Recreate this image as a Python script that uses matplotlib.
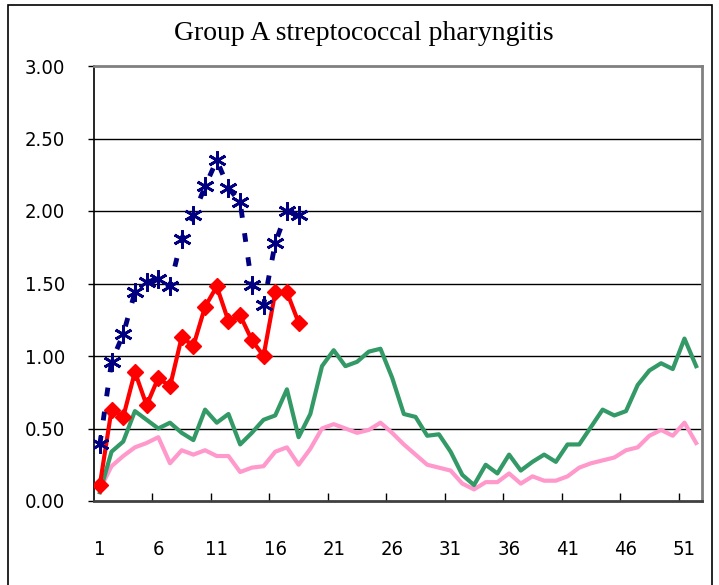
import numpy as np
import matplotlib
matplotlib.use("Agg")
import matplotlib.pyplot as plt
from matplotlib.patches import Rectangle
from matplotlib import font_manager

# weeks 1..52
weeks = np.arange(1, 53)

# current season (weeks 1-18)
cur_a = [0.39, 0.96, 1.15, 1.44, 1.51, 1.53, 1.48, 1.81, 1.97, 2.17, 2.35, 2.16,
         2.06, 1.49, 1.35, 1.78, 2.00, 1.97]
cur_b = [0.11, 0.63, 0.58, 0.89, 0.66, 0.85, 0.79, 1.13, 1.07, 1.34, 1.48, 1.24,
         1.28, 1.11, 1.00, 1.44, 1.44, 1.23]

# previous / average seasons (weeks 1-52)
prev_green = [0.06, 0.34, 0.41, 0.62, 0.56, 0.50, 0.54, 0.47, 0.42, 0.63, 0.54, 0.60,
              0.39, 0.47, 0.56, 0.59, 0.77, 0.44, 0.60, 0.93, 1.04, 0.93, 0.96, 1.03,
              1.05, 0.85, 0.60, 0.58, 0.45, 0.46, 0.34, 0.18, 0.11, 0.25, 0.19, 0.32,
              0.21, 0.27, 0.32, 0.27, 0.39, 0.39, 0.51, 0.63, 0.59, 0.62, 0.80, 0.90,
              0.95, 0.91, 1.12, 0.93]
prev_pink = [0.08, 0.24, 0.31, 0.37, 0.40, 0.44, 0.26, 0.35, 0.32, 0.35, 0.31, 0.31,
             0.20, 0.23, 0.24, 0.34, 0.37, 0.25, 0.36, 0.50, 0.53, 0.50, 0.47, 0.49,
             0.54, 0.47, 0.39, 0.32, 0.25, 0.23, 0.21, 0.12, 0.08, 0.13, 0.13, 0.19,
             0.12, 0.17, 0.14, 0.14, 0.17, 0.23, 0.26, 0.28, 0.30, 0.35, 0.37, 0.45,
             0.49, 0.45, 0.54, 0.40]

title = "Group A streptococcal pharyngitis"
xticks_lab = [1, 6, 11, 16, 21, 26, 31, 36, 41, 46, 51]
yticks = [0.0, 0.5, 1.0, 1.5, 2.0, 2.5, 3.0]

# pick a narrow face for the tick numbers if one is around
names = {f.name for f in font_manager.fontManager.ttflist}
tick_font = dict(family=["DejaVu Sans"], fontsize=13.5)
if "Liberation Sans Narrow" in names:
    tick_font = dict(family=["Liberation Sans Narrow", "DejaVu Sans"], fontsize=16)
elif any(f.name == "DejaVu Sans" and f.stretch == "condensed"
         for f in font_manager.fontManager.ttflist):
    tick_font = dict(family=["DejaVu Sans"], fontsize=14.5, stretch="condensed")

W, H = 719, 585
fig = plt.figure(figsize=(W / 100, H / 100), dpi=100)
ax = fig.add_axes([94 / W, 1 - 501 / H, (702 - 94) / W, (501 - 66) / H])

# outer chart frame
fig.patches.append(Rectangle((8 / W, -0.02), (712 - 8) / W, 1 - 5 / H + 0.02,
                             transform=fig.transFigure, fill=False,
                             edgecolor="black", linewidth=1.2))

for y in yticks[1:-1]:
    ax.axhline(y, color="black", linewidth=1, zorder=1)

ax.plot(weeks, prev_pink, color="#FF99CC", linewidth=3, zorder=2)
ax.plot(weeks, prev_green, color="#339966", linewidth=3, zorder=3)
ax.plot(weeks[:len(cur_b)], cur_b, color="#FF0000", linewidth=3, marker="D",
        markersize=8, zorder=4)
ax.plot(weeks[:len(cur_a)], cur_a, color="#000080", linewidth=3.5,
        linestyle=(0, (1.8, 3.2)), marker=(6, 2, 0), markersize=13,
        markeredgewidth=2, zorder=5)

ax.set_xlim(0.5, 52.5)
ax.set_ylim(0, 3)
ax.set_yticks(yticks)
ax.set_yticklabels(["%.2f" % v for v in yticks])
ax.set_xticks(xticks_lab)
ax.set_xticklabels([str(v) for v in xticks_lab])
ax.set_xticks(np.arange(5.5, 51, 5), minor=True)

for lab in ax.get_yticklabels() + ax.get_xticklabels():
    lab.set(**tick_font)

ax.tick_params(axis="x", which="major", length=0, pad=28)
ax.tick_params(axis="x", which="minor", direction="in", length=6, width=1)
ax.tick_params(axis="y", direction="out", length=4, width=1, pad=17)

ax.spines["left"].set_color("black")
ax.spines["left"].set_linewidth(1.2)
ax.spines["bottom"].set_color("#404040")
ax.spines["bottom"].set_linewidth(2)
ax.spines["top"].set_color("#808080")
ax.spines["top"].set_linewidth(2)
ax.spines["right"].set_color("#808080")
ax.spines["right"].set_linewidth(2)

fig.text(364 / W, 1 - 33 / H, title, ha="center", va="center",
         family=["Liberation Serif", "DejaVu Serif"], fontsize=20)

fig.savefig("out.png", dpi=100)
